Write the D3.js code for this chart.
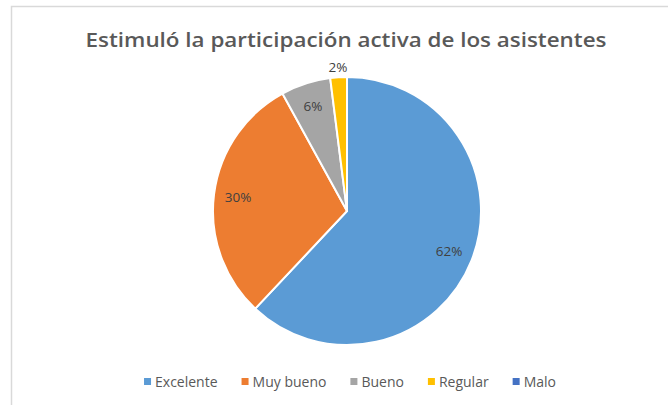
<!DOCTYPE html>
<html>
<head>
<meta charset="utf-8">
<script src="https://cdn.jsdelivr.net/npm/d3@7"></script>
<style>
  body { margin: 0; background: #fff; }
  svg { display: block; font-family: "Open Sans", "Noto Sans", sans-serif; }
</style>
</head>
<body>
<div id="chart"></div>
<script>
// chart data
let title = "Estimuló la participación activa de los asistentes";
let categories = ["Excelente", "Muy bueno", "Bueno", "Regular", "Malo"];
let values = [62, 30, 6, 2, 0];
let colors = ["#5B9BD5", "#ED7D31", "#A5A5A5", "#FFC000", "#4472C4"];

let width = 668, height = 405;
let cx = 347, cy = 211, radius = 134;

let svg = d3.select('#chart')
    .append('svg')
    .attr('width', width)
    .attr('height', height);

// chart frame (cropped at right and bottom)
svg.append('path')
    .attr('d', `M11.5,${height} V6.5 H${width}`)
    .attr('fill', 'none')
    .attr('stroke', '#d9d9d9')
    .attr('stroke-width', 1.5);

// title
svg.append('text')
    .attr('x', 346)
    .attr('y', 47)
    .attr('text-anchor', 'middle')
    .attr('fill', '#595959')
    .style('font-size', '19px')
    .style('font-weight', 600)
    .attr('textLength', 521)
    .attr('lengthAdjust', 'spacingAndGlyphs')
    .text(title);

let total = d3.sum(values);
let data = categories.map((c, i) => ({ name: c, value: values[i], color: colors[i] }));

let pie = d3.pie()
    .value(d => d.value)
    .sort(null);

let arc = d3.arc()
    .innerRadius(0)
    .outerRadius(radius);

let chartGroup = svg.append('g')
    .attr('transform', `translate(${cx}, ${cy})`);

let slices = pie(data);

chartGroup.selectAll('path')
    .data(slices)
    .enter()
    .append('path')
    .attr('d', arc)
    .attr('fill', d => d.data.color)
    .attr('stroke', '#fff')
    .attr('stroke-width', 2)
    .attr('stroke-linejoin', 'round');

// data labels: inside for big slices, just outside for tiny ones
chartGroup.selectAll('text')
    .data(slices.filter(d => d.value > 0))
    .enter()
    .append('text')
    .attr('transform', d => {
        let a = (d.startAngle + d.endAngle) / 2;
        let r = d.value / total < 0.04 ? radius + 10 : radius * 0.82;
        return `translate(${Math.sin(a) * r}, ${-Math.cos(a) * r})`;
    })
    .attr('text-anchor', 'middle')
    .attr('dy', '0.35em')
    .attr('fill', '#404040')
    .style('font-size', '13.5px')
    .text(d => Math.round(d.value / total * 100) + '%');

// legend
let legend = svg.append('g');
let items = legend.selectAll('g')
    .data(data)
    .enter()
    .append('g');

items.append('rect')
    .attr('width', 7)
    .attr('height', 7)
    .attr('y', -4)
    .attr('fill', d => d.color);

items.append('text')
    .attr('x', 11)
    .attr('dy', '0.35em')
    .attr('fill', '#595959')
    .style('font-size', '14px')
    .text(d => d.name);

let gap = 24;
let xPos = 0;
items.each(function () {
    let w = this.querySelector('text').getComputedTextLength() + 11;
    d3.select(this).attr('transform', `translate(${xPos}, 0)`);
    xPos += w + gap;
});
let legendWidth = xPos - gap;
legend.attr('transform', `translate(${350 - legendWidth / 2}, 382)`);
</script>
</body>
</html>
